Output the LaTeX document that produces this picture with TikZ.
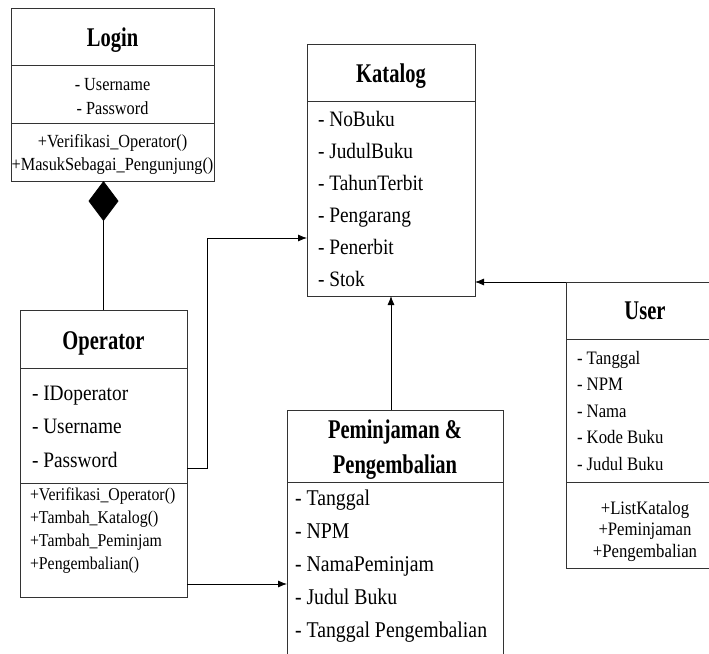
\documentclass[tikz,border=0pt]{standalone}
\usepackage{fontspec}
\setmainfont{Liberation Serif}[FakeStretch=0.88]
\newfontfamily\titlefont{Liberation Serif}[FakeStretch=0.76]
\usetikzlibrary{arrows.meta}
\tikzset{
  compart/.style={draw=black!80, line width=0.8pt, anchor=north west, inner sep=0pt, outer sep=0pt},
  assoc/.style={draw=black, line width=0.8pt, -{Latex[length=9pt,width=7pt]}},
  compose/.style={draw=black, line width=0.8pt, -{Diamond[length=40pt,width=30pt]}}
}

\begin{document}
\begin{tikzpicture}[x=1pt,y=-1pt]
\clip (0,0) rectangle (709,653);

% Login class
\node[compart] (logintitle) at (11,8) {
    \begin{minipage}[c][57pt][c]{203pt}
    \vspace*{8pt}
    \centering\titlefont\bfseries\fontsize{27}{32}\selectfont Login
    \end{minipage}
};
\node[compart] (loginattr) at (11,65) {
    \begin{minipage}[c][58pt][c]{203pt}
    \vspace*{6pt}
    \centering\fontsize{18.5}{24}\selectfont
    - Username\\
    - Password
    \end{minipage}
};
\node[compart] (loginmeth) at (11,123) {
    \begin{minipage}[c][58pt][c]{203pt}
    \vspace*{4pt}
    \centering\fontsize{18.5}{23}\selectfont
    +Verifikasi\_Operator()\\
    +MasukSebagai\_Pengunjung()
    \end{minipage}
};

% Katalog class
\node[compart] (kattitle) at (307,44) {
    \begin{minipage}[c][57pt][c]{168pt}
    \vspace*{8pt}
    \centering\titlefont\bfseries\fontsize{27}{32}\selectfont Katalog
    \end{minipage}
};
\node[compart] (katattr) at (307,101) {
    \begin{minipage}[c][195pt][c]{168pt}
    \leftskip=11pt\fontsize{22}{32}\selectfont
    - NoBuku\\
    - JudulBuku\\
    - TahunTerbit\\
    - Pengarang\\
    - Penerbit\\
    - Stok
    \end{minipage}
};

% Operator class
\node[compart] (optitle) at (20,310) {
    \begin{minipage}[c][58pt][c]{167pt}
    \vspace*{8pt}
    \centering\titlefont\bfseries\fontsize{27}{32}\selectfont Operator
    \end{minipage}
};
\node[compart] (opattr) at (20,368) {
    \begin{minipage}[c][115pt][c]{167pt}
    \vspace*{2pt}
    \leftskip=12pt\fontsize{22}{33.5}\selectfont
    - IDoperator\\
    - Username\\
    - Password
    \end{minipage}
};
\node[compart] (opmeth) at (20,483) {
    \begin{minipage}[c][114pt][t]{167pt}
    \vspace*{5pt}
    \leftskip=10pt\fontsize{18}{23}\selectfont
    +Verifikasi\_Operator()\\
    +Tambah\_Katalog()\\
    +Tambah\_Peminjam\\
    +Pengembalian()
    \end{minipage}
};

% Peminjaman & Pengembalian class
\node[compart] (pemtitle) at (287,410) {
    \begin{minipage}[c][72pt][c]{216pt}
    \vspace*{8pt}
    \centering\titlefont\bfseries\fontsize{27}{35}\selectfont
    Peminjaman \&\\
    Pengembalian
    \end{minipage}
};
\node[compart] (pemattr) at (287,482) {
    \begin{minipage}[c][230pt][t]{216pt}
    \vspace*{8pt}
    \leftskip=8pt\fontsize{22.5}{33}\selectfont
    - Tanggal\\
    - NPM\\
    - NamaPeminjam\\
    - Judul Buku\\
    - Tanggal Pengembalian
    \end{minipage}
};

% User class
\node[compart] (usertitle) at (566,282) {
    \begin{minipage}[c][57pt][c]{158pt}
    \centering\titlefont\bfseries\fontsize{27}{32}\selectfont User
    \end{minipage}
};
\node[compart] (userattr) at (566,339) {
    \begin{minipage}[c][143pt][c]{158pt}
    \leftskip=11pt\fontsize{19}{26.5}\selectfont
    - Tanggal\\
    - NPM\\
    - Nama\\
    - Kode Buku\\
    - Judul Buku
    \end{minipage}
};
\node[compart] (usermeth) at (566,482) {
    \begin{minipage}[c][86pt][t]{158pt}
    \vspace*{19pt}
    \centering\fontsize{19}{21.5}\selectfont
    +ListKatalog\\
    +Peminjaman\\
    +Pengembalian
    \end{minipage}
};

% Relations
\draw[compose] (optitle.north) -- (optitle.north |- loginmeth.south);
\draw[assoc] ([yshift=-42.5pt]opattr.east) -- ++(20,0) |- ([yshift=-39.5pt]katattr.west);
\draw[assoc] ([yshift=-44pt]opmeth.east) -- ([yshift=-44pt]opmeth.east -| pemattr.west);
\draw[assoc] (pemtitle.north -| katattr.south) -- (katattr.south);
\draw[assoc] (usertitle.north west) -- (usertitle.north west -| katattr.east);
\end{tikzpicture}
\end{document}
